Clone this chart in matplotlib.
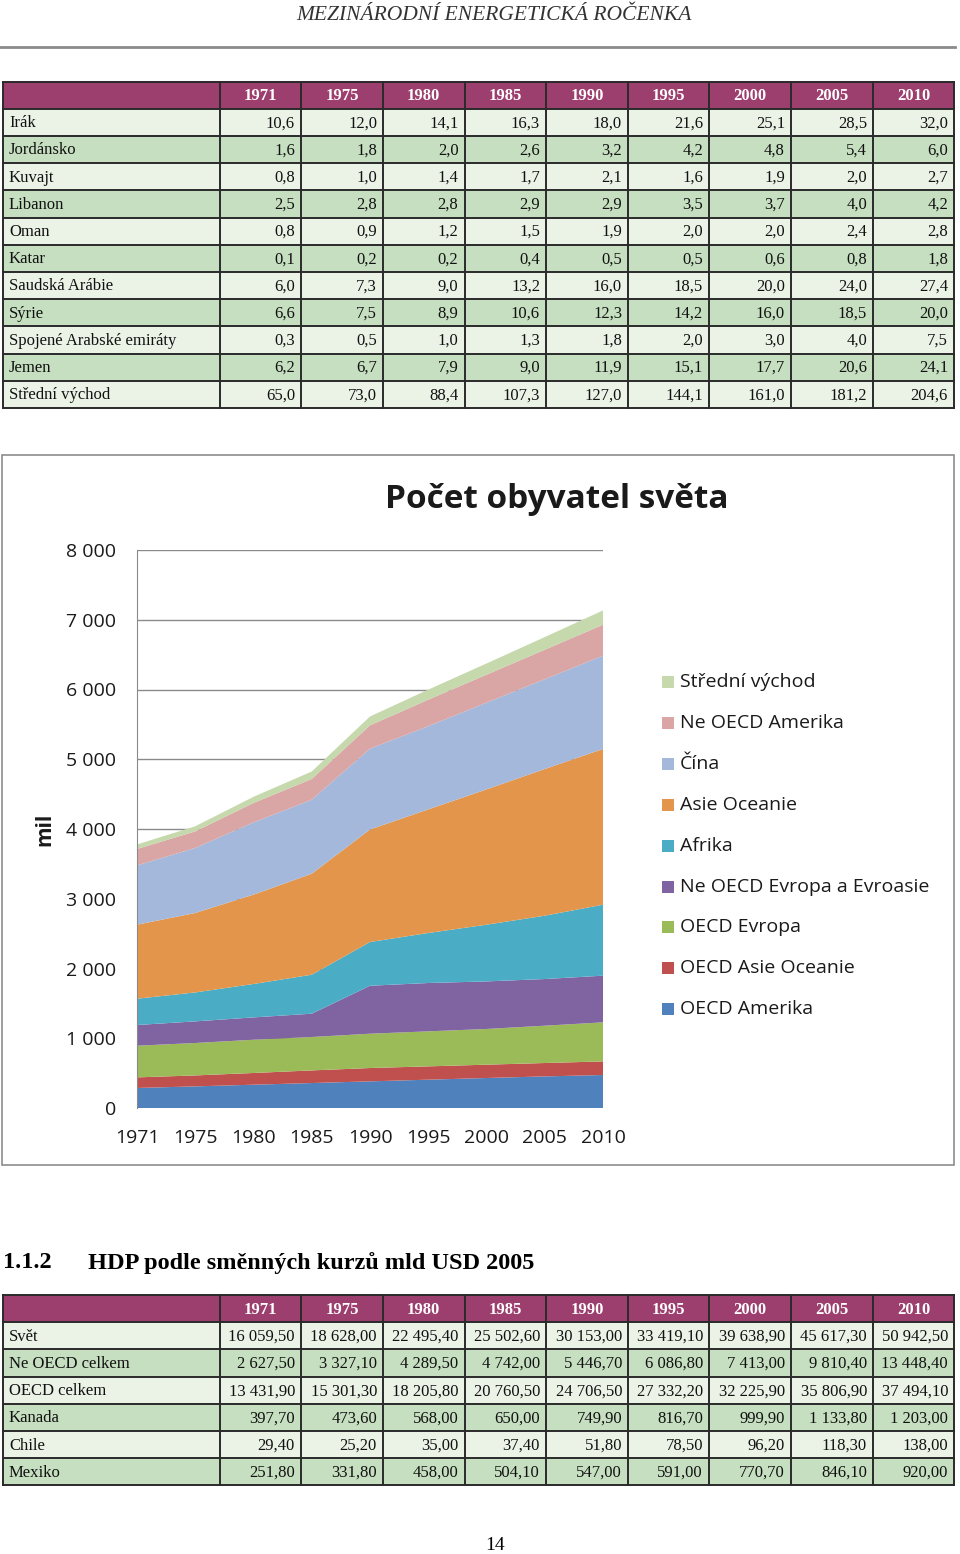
import matplotlib
matplotlib.use("Agg")
import matplotlib.pyplot as plt
from matplotlib.patches import Rectangle

# --- data ---
years = [1971, 1975, 1980, 1985, 1990, 1995, 2000, 2005, 2010]

t1_names = ["Irák", "Jordánsko", "Kuvajt", "Libanon", "Oman", "Katar", "Saudská Arábie",
            "Sýrie", "Spojené Arabské emiráty", "Jemen", "Střední východ"]
t1_values = [
    [10.6, 12.0, 14.1, 16.3, 18.0, 21.6, 25.1, 28.5, 32.0],
    [1.6, 1.8, 2.0, 2.6, 3.2, 4.2, 4.8, 5.4, 6.0],
    [0.8, 1.0, 1.4, 1.7, 2.1, 1.6, 1.9, 2.0, 2.7],
    [2.5, 2.8, 2.8, 2.9, 2.9, 3.5, 3.7, 4.0, 4.2],
    [0.8, 0.9, 1.2, 1.5, 1.9, 2.0, 2.0, 2.4, 2.8],
    [0.1, 0.2, 0.2, 0.4, 0.5, 0.5, 0.6, 0.8, 1.8],
    [6.0, 7.3, 9.0, 13.2, 16.0, 18.5, 20.0, 24.0, 27.4],
    [6.6, 7.5, 8.9, 10.6, 12.3, 14.2, 16.0, 18.5, 20.0],
    [0.3, 0.5, 1.0, 1.3, 1.8, 2.0, 3.0, 4.0, 7.5],
    [6.2, 6.7, 7.9, 9.0, 11.9, 15.1, 17.7, 20.6, 24.1],
    [65.0, 73.0, 88.4, 107.3, 127.0, 144.1, 161.0, 181.2, 204.6],
]

t2_names = ["Svět", "Ne OECD celkem", "OECD celkem", "Kanada", "Chile", "Mexiko"]
t2_values = [
    [16059.5, 18628.0, 22495.4, 25502.6, 30153.0, 33419.1, 39638.9, 45617.3, 50942.5],
    [2627.5, 3327.1, 4289.5, 4742.0, 5446.7, 6086.8, 7413.0, 9810.4, 13448.4],
    [13431.9, 15301.3, 18205.8, 20760.5, 24706.5, 27332.2, 32225.9, 35806.9, 37494.1],
    [397.7, 473.6, 568.0, 650.0, 749.9, 816.7, 999.9, 1133.8, 1203.0],
    [29.4, 25.2, 35.0, 37.4, 51.8, 78.5, 96.2, 118.3, 138.0],
    [251.8, 331.8, 458.0, 504.1, 547.0, 591.0, 770.7, 846.1, 920.0],
]

# population (mil), bottom to top
oecd_amerika = [287, 310, 334, 358, 382, 406, 430, 453, 473]
oecd_asie_oceanie = [152, 157, 168, 181, 191, 191, 191, 192, 195]
oecd_evropa = [454, 465, 477, 479, 492, 502, 512, 535, 560]
ne_oecd_evropa = [297, 310, 320, 334, 688, 693, 682, 669, 669]
afrika = [377, 415, 479, 559, 627, 717, 813, 908, 1018]
asie_oceanie = [1061, 1139, 1281, 1448, 1613, 1772, 1940, 2103, 2232]
cina = [850, 932, 1036, 1061, 1159, 1193, 1243, 1287, 1338]
ne_oecd_amerika = [235, 238, 278, 297, 334, 380, 401, 423, 444]
stredni_vychod = t1_values[-1]

series = [oecd_amerika, oecd_asie_oceanie, oecd_evropa, ne_oecd_evropa, afrika,
          asie_oceanie, cina, ne_oecd_amerika, stredni_vychod]
labels = ["OECD Amerika", "OECD Asie Oceanie", "OECD Evropa", "Ne OECD Evropa a Evroasie",
          "Afrika", "Asie Oceanie", "Čína", "Ne OECD Amerika", "Střední východ"]
colors = ["#4F81BD", "#C0504D", "#9BBB59", "#8064A2", "#4BACC6",
          "#E3964B", "#A4B8DB", "#D9A5A5", "#C5D9AC"]

W, H = 960, 1554
serif = "Liberation Serif"
sans = "Open Sans"


def num(v, dec):
    s = f"{v:,.{dec}f}"
    return s.replace(",", " ").replace(".", ",")


fig = plt.figure(figsize=(W / 100, H / 100), dpi=100)
bg = fig.add_axes([0, 0, 1, 1])
bg.set_xlim(0, W)
bg.set_ylim(H, 0)
bg.axis("off")

# page header
bg.text(494, 15, "MEZINÁRODNÍ ENERGETICKÁ ROČENKA", family=serif, style="italic",
        fontsize=15.5, ha="center", va="center", color="#333333")
bg.plot([0, 955], [47, 47], color="#8a8a8a", lw=2)

col_edges = [3, 219.5, 301, 383, 464.5, 546, 628, 709, 791, 873, 954]
row_h = 27.2


def draw_table(top, names, values, dec):
    n = len(names) + 1
    bg.add_patch(Rectangle((col_edges[0], top), col_edges[-1] - col_edges[0], row_h,
                           color="#9C3E6E", lw=0))
    for j, yr in enumerate(years):
        xc = (col_edges[j + 1] + col_edges[j + 2]) / 2
        bg.text(xc, top + row_h / 2 + 1, str(yr), family=serif, weight="bold",
                fontsize=12, color="white", ha="center", va="center")
    for i, name in enumerate(names):
        y0 = top + row_h * (i + 1)
        c = "#EBF3E7" if i % 2 == 0 else "#C6DFC0"
        bg.add_patch(Rectangle((col_edges[0], y0), col_edges[-1] - col_edges[0], row_h,
                               color=c, lw=0))
        bg.text(col_edges[0] + 6, y0 + row_h / 2 + 1, name, family=serif,
                fontsize=12, ha="left", va="center", color="#111111")
        for j, v in enumerate(values[i]):
            bg.text(col_edges[j + 2] - 6, y0 + row_h / 2 + 1, num(v, dec), family=serif,
                    fontsize=12, ha="right", va="center", color="#111111")
    bottom = top + row_h * n
    for k in range(n + 1):
        bg.plot([col_edges[0], col_edges[-1]], [top + row_h * k] * 2, color="#2a2a2a", lw=1.4)
    for x in col_edges:
        bg.plot([x, x], [top, bottom], color="#2a2a2a", lw=1.4)


draw_table(81.5, t1_names, t1_values, 1)

# chart frame
bg.add_patch(Rectangle((2, 455), 952, 710, fill=False, ec="#8c8c8c", lw=1.2))
bg.text(557, 499, "Počet obyvatel světa", family=sans, weight="bold", fontsize=24,
        ha="center", va="center", color="#1a1a1a")
bg.text(45, 829, "mil", family=sans, weight="bold", fontsize=15, rotation=90,
        ha="center", va="center", color="#1a1a1a")

# legend
for k in range(len(labels)):
    idx = len(labels) - 1 - k
    yc = 682 + 40.9 * k
    bg.add_patch(Rectangle((662, yc - 6), 12, 12, color=colors[idx], lw=0))
    bg.text(680, yc, labels[idx], family=sans, fontsize=14, ha="left", va="center",
            color="#1a1a1a")

# stacked area chart
left, right, top, bot = 137, 603, 550, 1108
ax = fig.add_axes([left / W, (H - bot) / H, (right - left) / W, (bot - top) / H])
ax.patch.set_alpha(0)
x = list(range(len(years)))
ax.stackplot(x, *series, colors=colors, labels=labels, lw=0)
ax.set_xlim(0, len(years) - 1)
ax.set_ylim(0, 8000)
ax.set_yticks(range(0, 8001, 1000))
ax.set_yticklabels([num(v, 0) for v in range(0, 8001, 1000)], family=sans, fontsize=14)
ax.set_xticks(x)
ax.set_xticklabels([str(y) for y in years], family=sans, fontsize=14)
ax.tick_params(length=0, colors="#1a1a1a")
ax.tick_params(axis="y", pad=15)
ax.tick_params(axis="x", pad=15)
ax.yaxis.grid(True, color="#8a8a8a", lw=1)
ax.set_axisbelow(True)
for s in ["top", "right", "bottom"]:
    ax.spines[s].set_visible(False)
ax.spines["left"].set_color("#8a8a8a")

# second heading + table
bg.text(3, 1263, "1.1.2", family=serif, weight="bold", fontsize=17.5, ha="left", va="center")
bg.text(88, 1263, "HDP podle směnných kurzů mld USD 2005", family=serif, weight="bold",
        fontsize=17.5, ha="left", va="center")
draw_table(1295, t2_names, t2_values, 2)

bg.text(495, 1546, "14", family=serif, fontsize=14, ha="center", va="center")

fig.savefig("out.png", dpi=100)
